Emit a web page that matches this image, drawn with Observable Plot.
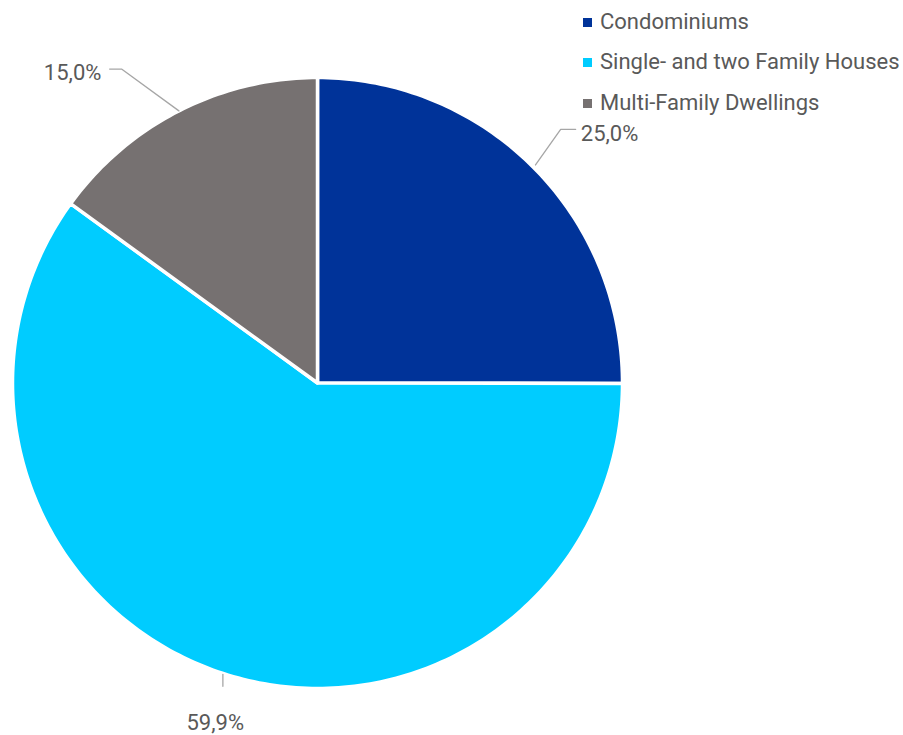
<!DOCTYPE html>
<html>
<head>
<meta charset="utf-8">
<script src="https://cdn.jsdelivr.net/npm/d3@7"></script>
<script src="https://cdn.jsdelivr.net/npm/@observablehq/plot@0.6"></script>
<style>
  html, body { margin: 0; padding: 0; background: #fff; }
  #wrap { position: relative; width: 903px; height: 735px; font-family: Roboto, "Liberation Sans", sans-serif; }
  #wrap svg { position: absolute; left: 0; top: 0; }
  #legend { position: absolute; left: 583px; top: 1px; color: #595959; font-size: 22px; }
  #legend div { height: 40.5px; display: flex; align-items: center; white-space: nowrap; }
  #legend span.sw { display: inline-block; width: 9px; height: 9px; margin: 2px 8px 0 0; }
</style>
</head>
<body>
<div id="wrap"><div id="legend"></div></div>
<script>
const categories = ["Condominiums", "Single- and two Family Houses", "Multi-Family Dwellings"];
const shares = [25.0, 59.9, 15.0];
const labels = ["25,0%", "59,9%", "15,0%"];
const colors = ["#003399", "#00CCFF", "#767171"];

// slice geometry (clockwise from 12 o'clock)
const pie = d3.pie().sort(null).value(d => d)(shares);
const N = 360;
const slicePts = [];
pie.forEach((p, i) => {
  slicePts.push({cat: categories[i], x: 0, y: 0});
  const n = Math.max(2, Math.round(N * (p.endAngle - p.startAngle) / (2 * Math.PI)));
  for (let k = 0; k <= n; k++) {
    const a = p.startAngle + (p.endAngle - p.startAngle) * k / n;
    slicePts.push({cat: categories[i], x: Math.sin(a), y: Math.cos(a)});
  }
  slicePts.push({cat: categories[i], x: 0, y: 0});
});

// leader lines and labels
const pol = (a, r) => ({x: r * Math.sin(a), y: r * Math.cos(a)});
const mid = pie.map(p => (p.startAngle + p.endAngle) / 2);
const leaders = [];
const labelPts = [];
// Condominiums
{
  const a = mid[0];
  const p0 = pol(a, 1.01), p1 = pol(a - 0.021, 1.151);
  leaders.push({k: 0, ...p0}, {k: 0, ...p1}, {k: 0, x: p1.x + 0.049, y: p1.y});
  labelPts.push({t: labels[0], x: p1.x + 0.066, y: p1.y - 0.014, anchor: "start"});
}
// Single/two family
{
  const a = mid[1];
  const p0 = pol(a, 1.003);
  const p1 = {x: p0.x, y: p0.y - 0.039};
  leaders.push({k: 1, ...p0}, {k: 1, ...p1});
  labelPts.push({t: labels[1], x: p0.x - 0.025, y: p0.y - 0.16, anchor: "middle"});
}
// Multi-family
{
  const a = mid[2];
  const p0 = pol(a, 1.0), p1 = pol(a - 0.087, 1.212);
  leaders.push({k: 2, ...p0}, {k: 2, ...p1}, {k: 2, x: p1.x - 0.039, y: p1.y});
  labelPts.push({t: labels[2], x: p1.x - 0.066, y: p1.y - 0.014, anchor: "end"});
}

const chart = Plot.plot({
  width: 903,
  height: 735,
  marginLeft: 12,
  marginRight: 281,
  marginTop: 77,
  marginBottom: 47,
  x: {domain: [-1, 1], axis: null},
  y: {domain: [-1, 1], axis: null},
  color: {domain: categories, range: colors},
  style: {fontFamily: "Roboto, 'Liberation Sans', sans-serif", background: "white"},
  marks: [
    Plot.line(slicePts, {x: "x", y: "y", z: "cat", fill: "cat", stroke: "white", strokeWidth: 3.5, curve: "linear"}),
    Plot.line(leaders, {x: "x", y: "y", z: "k", stroke: "#A6A6A6", strokeWidth: 1.3}),
    Plot.text(labelPts.filter(d => d.anchor === "start"), {x: "x", y: "y", text: "t", textAnchor: "start", fill: "#595959", fontSize: 22}),
    Plot.text(labelPts.filter(d => d.anchor === "end"), {x: "x", y: "y", text: "t", textAnchor: "end", fill: "#595959", fontSize: 22}),
    Plot.text(labelPts.filter(d => d.anchor === "middle"), {x: "x", y: "y", text: "t", textAnchor: "middle", fill: "#595959", fontSize: 22})
  ]
});
const wrap = document.getElementById("wrap");
wrap.insertBefore(chart, wrap.firstChild);

const legend = document.getElementById("legend");
categories.forEach((c, i) => {
  const row = document.createElement("div");
  const sw = document.createElement("span");
  sw.className = "sw";
  sw.style.background = colors[i];
  row.appendChild(sw);
  row.appendChild(document.createTextNode(c));
  legend.appendChild(row);
});
</script>
</body>
</html>
